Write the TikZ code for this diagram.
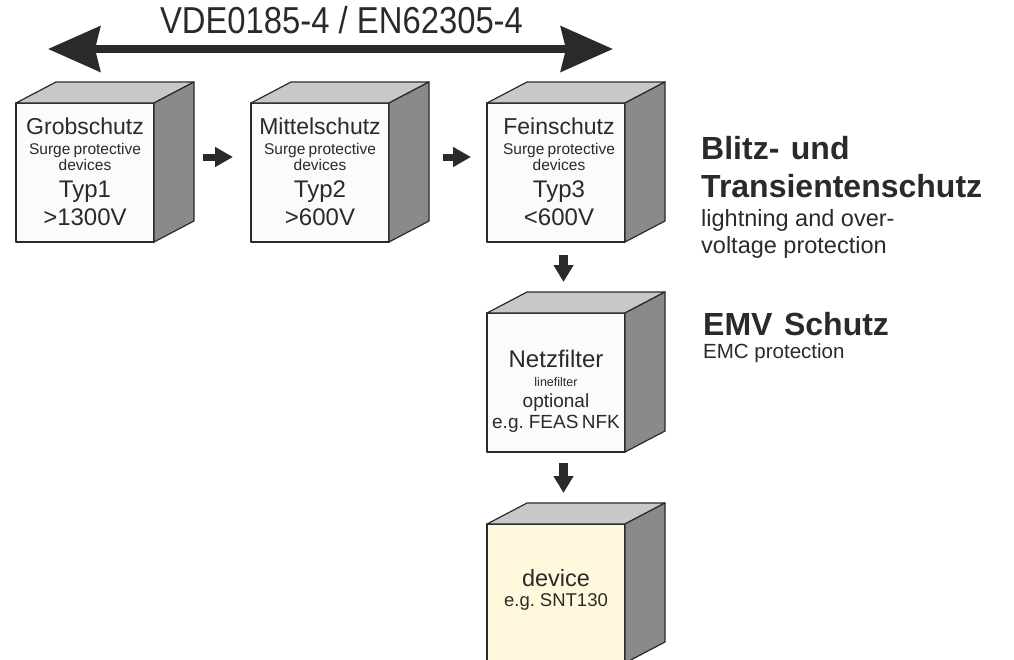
\documentclass[tikz,border=0pt]{standalone}
\usepackage{fontspec}
\setmainfont{Liberation Sans}
\usetikzlibrary{arrows.meta}
\definecolor{ink}{HTML}{2A2A2A}
\definecolor{topgray}{HTML}{C8C8C8}
\definecolor{sidegray}{HTML}{8A8A8A}
\definecolor{frontwhite}{HTML}{FBFBFB}
\definecolor{devyellow}{HTML}{FFF8DC}
\newcommand\fs[2]{\fontsize{#1}{#2}\selectfont}
\newcommand\drawcube[4]{% name, x, y, fill
  \node[frontface, fill=#4] (#1) at (#2,#3) {};
  \draw[face, fill=topgray] (#1.north west) -- ++(40,-21) -- ++(138,0) -- (#1.north east) -- cycle;
  \draw[face, fill=sidegray] (#1.north east) -- ++(40,-21) -- ++(0,139) -- (#1.south east) -- cycle;
}
\begin{document}
\begin{tikzpicture}[x=1pt,y=-1pt,
  face/.style={draw=ink, line width=1.2pt, line join=round},
  frontface/.style={face, minimum width=138pt, minimum height=139pt, inner sep=0pt, outer sep=0pt, anchor=north west},
  boxtext/.style={text=ink, text width=150pt, align=center, anchor=base, inner sep=0pt},
  sidetext/.style={text=ink, text width=310pt, align=left, anchor=base west, inner sep=0pt},
  flowh/.style={draw=ink, line width=7pt, -{Triangle[length=18pt,width=19pt]}},
  flowv/.style={draw=ink, line width=9pt, -{Triangle[length=17pt,width=19pt]}},
  bigarrow/.style={draw=ink, line width=8pt, {Stealth[length=52pt,width=45pt,inset=5pt]}-{Stealth[length=52pt,width=45pt,inset=5pt]}}
]
\useasboundingbox (0,0) rectangle (1014,659);
\clip (0,0) rectangle (1014,659);

% title and double arrow
\node[text=ink, anchor=base, inner sep=0pt] (title) at (341.5,33) {\scalebox{0.875}[1]{\fs{37.5}{40}VDE0185-4 / EN62305-4}};
\coordinate (aL) at (48,49);
\coordinate (aR) at (613,49);
\draw[bigarrow] (aL) -- (aR);

% cubes
\drawcube{b1}{16}{103}{frontwhite}
\drawcube{b2}{251}{103}{frontwhite}
\drawcube{b3}{487}{103}{frontwhite}
\drawcube{nf}{487}{313}{frontwhite}
\drawcube{dev}{487}{524}{devyellow}

% cube texts
\node[boxtext] (t1) at ([yshift=-31pt]b1.north) {\fs{23}{23}Grobschutz\par\fs{15.5}{20}Surge protective\par\fs{15.5}{16}devices\par\fs{24}{27}Typ1\par\fs{24}{28}{>}1300V\par};
\node[boxtext] (t2) at ([yshift=-31pt]b2.north) {\fs{23}{23}Mittelschutz\par\fs{15.5}{20}Surge protective\par\fs{15.5}{16}devices\par\fs{24}{27}Typ2\par\fs{24}{28}{>}600V\par};
\node[boxtext] (t3) at ([xshift=3pt,yshift=-31pt]b3.north) {\fs{23}{23}Feinschutz\par\fs{15.5}{20}Surge protective\par\fs{15.5}{16}devices\par\fs{24}{27}Typ3\par\fs{24}{28}{<}600V\par};
\node[boxtext] (t4) at ([yshift=-54pt]nf.north) {\fs{24}{24}Netzfilter\par\fs{12.5}{19}linefilter\par\fs{19}{21}optional\par\fs{19}{21}e.g. FEAS NFK\par};
\node[boxtext] (t5) at ([yshift=-62pt]dev.north) {\fs{23.5}{24}device\par\fs{18.5}{20}e.g. SNT130\par};

% flow arrows
\draw[flowh] ([xshift=49pt,yshift=15.5pt]b1.east) -- ([xshift=-18pt,yshift=15.5pt]b2.west);
\draw[flowh] ([xshift=54pt,yshift=15.5pt]b2.east) -- ([xshift=-16pt,yshift=15.5pt]b3.west);
\draw[flowv] ([xshift=7.5pt,yshift=-13pt]b3.south) -- ([xshift=7.5pt,yshift=31pt]nf.north);
\draw[flowv] ([xshift=7.5pt,yshift=-11pt]nf.south) -- ([xshift=7.5pt,yshift=31pt]dev.north);

% side texts
\node[sidetext] (s1) at (701,159) {\fs{32}{32}\bfseries\spaceskip=0.36em Blitz- und\par\fs{32}{38}\bfseries Transientenschutz\par\spaceskip=0pt\fs{23.5}{29}\mdseries lightning and over-\par\fs{23.5}{27}voltage protection\par};
\node[sidetext] (s2) at (703,335) {\fs{32}{32}\bfseries\spaceskip=0.36em EMV Schutz\par\spaceskip=0pt\fs{20.5}{23}\mdseries EMC protection\par};
\end{tikzpicture}
\end{document}
